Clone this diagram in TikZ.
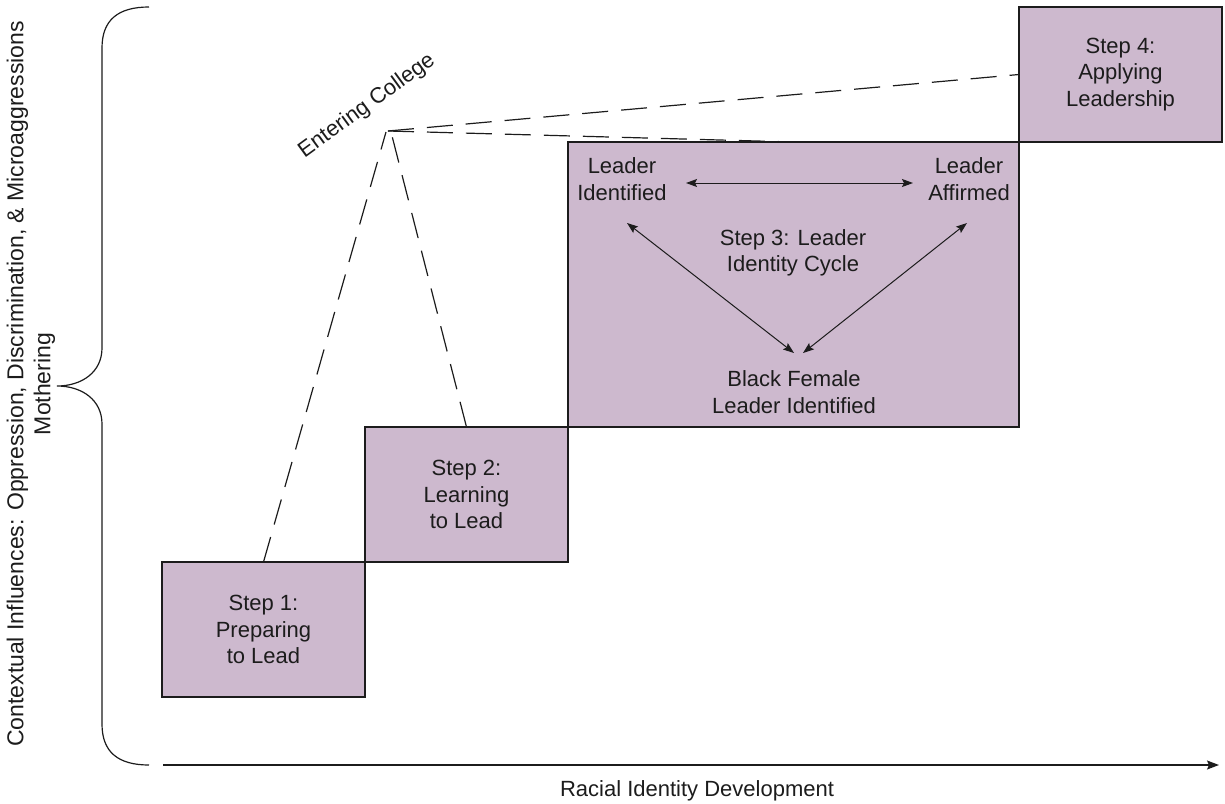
\documentclass[tikz,border=0pt]{standalone}
\usepackage{fontspec}
\setmainfont{Liberation Sans}
\usetikzlibrary{arrows.meta}
\definecolor{stepfill}{RGB}{205,185,206}
\definecolor{ink}{RGB}{28,28,28}
\begin{document}
\begin{tikzpicture}[x=1pt,y=-1pt,
  every node/.style={font=\fontsize{22}{26.5}\selectfont,text=ink,inner sep=0pt,outer sep=0pt},
  stepbox/.style={draw=ink,line width=1.2pt,fill=stepfill,align=center},
  smallstep/.style={stepbox,minimum width=203pt,minimum height=135pt},
  label/.style={align=center},
  guide/.style={draw=ink,line width=1.2pt,dash pattern=on 26pt off 13pt},
  cycle/.style={draw=ink,line width=1pt,{Stealth[length=11pt,width=8pt,inset=2pt]}-{Stealth[length=11pt,width=8pt,inset=2pt]}},
  axis/.style={draw=ink,line width=1.3pt,-{Stealth[length=12pt,width=9pt,inset=2pt]}}
]
\useasboundingbox (0,0) rectangle (1225,803);

% the four steps
\node[smallstep] (s1) at (263.5,629.5) {Step 1:\\Preparing\\to Lead};
\node[smallstep] (s2) at (466.5,494.5) {Step 2:\\Learning\\to Lead};
\node[stepbox,minimum width=451pt,minimum height=285pt] (s3) at (793.5,284.5) {};
\node[smallstep] (s4) at (1120.5,74.5) {Step 4:\\Applying\\Leadership};

% inside the leader identity cycle
\node[label] (lid) at (622,179) {Leader\\Identified};
\node[label] (laf) at (969,179) {Leader\\Affirmed};
\node[label] (cyc) at (793,253) {Step 3: Leader\\Identity Cycle};
\node[label] (bfl) at (794,392) {Black Female\\Leader Identified};

\coordinate (lidR) at (686,183);
\coordinate (lafL) at (913,183);
\coordinate (lidB) at (627,223);
\coordinate (lafB) at (967,223);
\coordinate (bflL) at (794,353);
\coordinate (bflR) at (803,353);

\path[cycle] (lidR) -- (lafL);
\path[cycle] (lidB) -- (bflL);
\path[cycle] (lafB) -- (bflR);

% entering college
\coordinate (apex) at (388,131);
\coordinate (apexL) at (386,132);
\coordinate (apexR) at (391,132);
\node[rotate=36] (ec) at (367,106) {Entering College};

\path[guide] (s1.north) -- (apexL);
\path[guide] (s2.north) -- (apexR);
\path[guide] (apex) -- (s3.north);
\path[guide] (apex) -- (s4.west);

% contextual influences brace
\coordinate (bt) at (149,7);
\coordinate (bb) at (149,765);
\coordinate (tip) at (57,386);
\draw[ink,line width=1.2pt] (bt) .. controls (118,7) and (102,20) .. (102,48)
  -- (102,348) .. controls (102,372) and (82,386) .. (tip)
  .. controls (82,386) and (102,400) .. (102,424)
  -- (102,724) .. controls (102,752) and (118,765) .. (bb);
\node[rotate=90,align=center,font=\fontsize{23}{27}\selectfont] (ctx) at (31,384)
  {Contextual Influences: Oppression, Discrimination, \& Microaggressions\\Mothering};

% racial identity axis
\coordinate (ax0) at (163,765);
\coordinate (ax1) at (1219,765);
\path[axis] (ax0) -- (ax1);
\node (axl) at (697,791) {Racial Identity Development};
\end{tikzpicture}
\end{document}
